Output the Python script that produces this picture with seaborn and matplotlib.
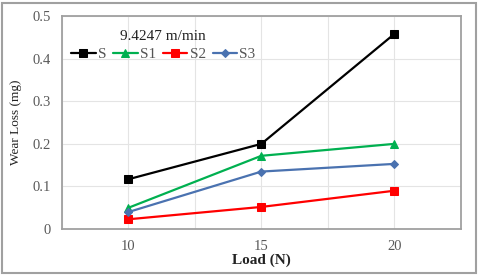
import matplotlib
matplotlib.use("Agg")
import matplotlib.pyplot as plt
from matplotlib.patches import Rectangle
import seaborn as sns
import pandas as pd

load = [10, 15, 20]
s = [0.117, 0.200, 0.458]
s1 = [0.050, 0.172, 0.200]
s2 = [0.023, 0.052, 0.090]
s3 = [0.040, 0.135, 0.153]
series_names = ["S", "S1", "S2", "S3"]

df = pd.DataFrame({
    "Load": load * 4,
    "Wear": s + s1 + s2 + s3,
    "Sample": [n for n in series_names for _ in load],
})

sns.set_style("white")
plt.rcParams["font.family"] = ["Liberation Serif", "DejaVu Serif"]

colors = {"S": "#000000", "S1": "#00b050", "S2": "#ff0000", "S3": "#4a72b0"}
markers = {"S": "s", "S1": "^", "S2": "s", "S3": "D"}
msizes = {"S": 5.5, "S1": 5.5, "S2": 6, "S3": 4}

fig = plt.figure(figsize=(4.8, 2.77), dpi=100)
ax = fig.add_axes([0.129, 0.173, 0.831, 0.769])

for name in series_names:
    sub = df[df["Sample"] == name]
    sns.lineplot(data=sub, x="Load", y="Wear", ax=ax, color=colors[name],
                 marker=markers[name], markersize=msizes[name],
                 markeredgecolor=colors[name], linewidth=1.6, label=name)

ax.set_xlim(7.5, 22.5)
ax.set_ylim(0, 0.5)
ax.set_xticks([10, 15, 20])
ax.set_xticks([7.5, 12.5, 17.5, 22.5], minor=True)
ax.set_yticks([0, 0.1, 0.2, 0.3, 0.4, 0.5])
ax.set_yticklabels(["0", "0.1", "0.2", "0.3", "0.4", "0.5"])
ax.grid(True, which="both", color="#e4e4e4", linewidth=0.8)
ax.tick_params(which="both", length=0, colors="#595959", labelsize=10.5, pad=8)
for sp in ax.spines.values():
    sp.set_color("#a0a0a0")
    sp.set_linewidth(1.3)

ax.set_xlabel("Load (N)", fontsize=11, fontweight="bold", color="#222222", labelpad=0)
ax.set_ylabel("Wear Loss (mg)", fontsize=9.5, color="#222222")
ax.yaxis.set_label_coords(-0.10, 0.5)

ax.text(0.253, 0.905, "9.4247 m/min", transform=ax.transAxes, ha="center",
        va="center", fontsize=11, color="#222222")

leg = ax.legend(loc="center left", bbox_to_anchor=(0.0, 0.82), ncol=4,
                frameon=False, fontsize=11, handlelength=1.6,
                handletextpad=0.15, columnspacing=0.45, borderaxespad=0.2)
for t in leg.get_texts():
    t.set_color("#555555")

fig.patches.append(Rectangle((2 / 480, 4 / 277), 474 / 480, 270 / 277,
                             transform=fig.transFigure, fill=False,
                             edgecolor="#a0a0a0", linewidth=1.5))

fig.savefig("out.png", dpi=100)
